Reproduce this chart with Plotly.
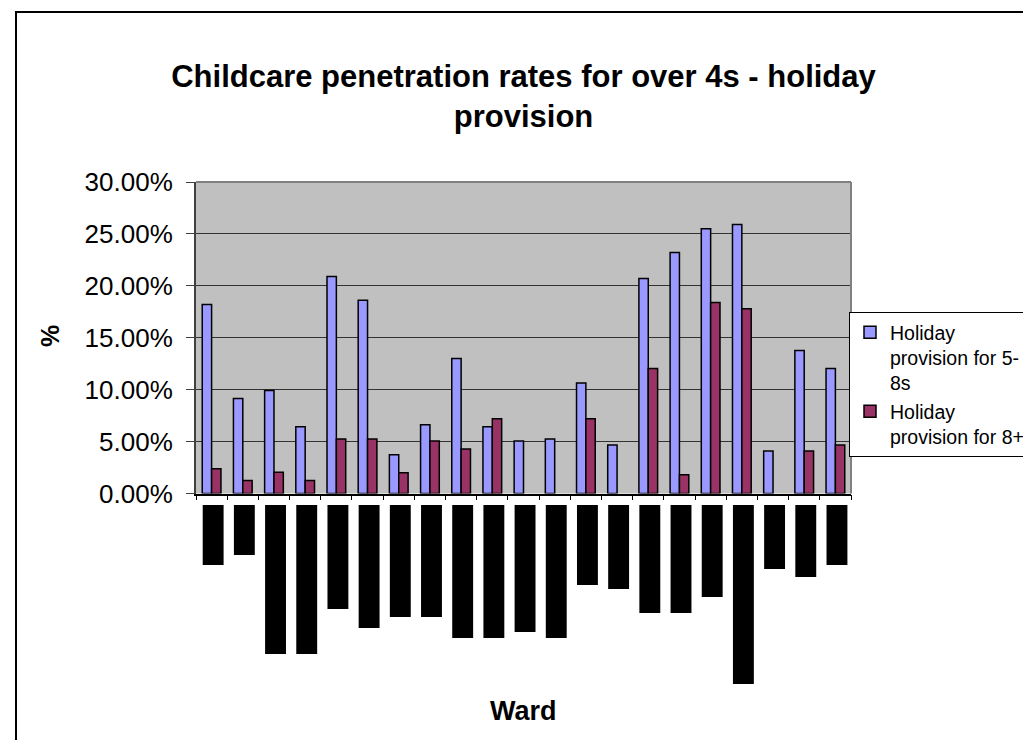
import plotly.graph_objects as go

# ---- data ----
wards = [f"Ward {i}" for i in range(1, 22)]
holiday_5_8 = [0.182, 0.0914, 0.0991, 0.0644, 0.209, 0.186, 0.0374, 0.0663, 0.130, 0.0644,
               0.0506, 0.0525, 0.1065, 0.0468, 0.207, 0.232, 0.255, 0.259, 0.0410, 0.1377, 0.1203]
holiday_8_plus = [0.0239, 0.0124, 0.0204, 0.0124, 0.0525, 0.0525, 0.0200, 0.0506, 0.0429, 0.0721,
                  None, None, 0.0721, None, 0.1203, 0.0181, 0.184, 0.178, None, 0.0410, 0.0468]
# lengths of the (obscured) rotated ward-name labels, in label units
ward_label_lengths = [60, 50, 149, 149, 104, 123, 112, 112, 133, 133, 127,
                      133, 80, 84, 108, 108, 92, 179, 64, 72, 60]
series_names = ["Holiday<br>provision for 5-<br>8s", "Holiday<br>provision for 8+"]
y_ticks = [0, 0.05, 0.10, 0.15, 0.20, 0.25, 0.30]

FONT = "Liberation Sans, Arial, sans-serif"
W, H = 1031, 740
L, R, T, B = 188, 188, 174, 60
PH = H - T - B  # paper height


def py(pix):
    return (H - B - pix) / PH


def px(pix):
    return (pix - L) / (W - L - R)


fig = go.Figure()
fig.add_trace(go.Bar(x=wards, y=holiday_5_8, name=series_names[0],
                     marker=dict(color="#9999FF", line=dict(color="black", width=1.5)),
                     width=0.30, offset=-0.30, xaxis="x", yaxis="y"))
fig.add_trace(go.Bar(x=wards, y=holiday_8_plus, name=series_names[1],
                     marker=dict(color="#993366", line=dict(color="black", width=1.5)),
                     width=0.30, offset=0.0, xaxis="x", yaxis="y"))
fig.add_trace(go.Bar(x=wards, y=ward_label_lengths, showlegend=False, hoverinfo="skip",
                     marker=dict(color="black", line=dict(width=0)),
                     width=0.67, offset=-0.285, xaxis="x2", yaxis="y2"))

fig.update_layout(
    width=W, height=H,
    margin=dict(l=L, r=R, t=T, b=B, autoexpand=False),
    paper_bgcolor="white", plot_bgcolor="white",
    font=dict(family=FONT, color="black"),
    barmode="overlay",
    title=dict(text="<b>Childcare penetration rates for over 4s - holiday<br>provision</b>",
               x=0.5, xref="paper", xanchor="center",
               y=1 - 79 / H, yref="container", yanchor="top",
               font=dict(family=FONT, size=31, color="black")),
    xaxis=dict(domain=[0, 1], anchor="y", type="category", range=[-0.5, 20.5],
               showline=True, linecolor="black", linewidth=1.5,
               ticks="outside", tickson="boundaries", ticklen=5, tickcolor="black",
               showticklabels=False, showgrid=False, zeroline=False),
    yaxis=dict(domain=[py(485.5), 1], anchor="x", range=[0, 0.30],
               tickvals=y_ticks, tickformat=".2%",
               tickfont=dict(family=FONT, size=26, color="black"),
               showline=True, linecolor="#404040", linewidth=2,
               ticks="outside", ticklen=8, tickcolor="#404040", ticklabelstandoff=8,
               showgrid=True, gridcolor="#333333", gridwidth=1, zeroline=False),
    xaxis2=dict(domain=[0, 1], anchor="y2", matches="x", type="category",
                visible=False, showgrid=False),
    yaxis2=dict(domain=[0, py(497)], anchor="x2", range=[(H - B) - 497, 0],
                visible=False, showgrid=False, zeroline=False),
    legend=dict(x=px(841), y=py(304), xanchor="left", yanchor="top",
                bgcolor="white", bordercolor="black", borderwidth=1,
                font=dict(family=FONT, size=19.5, color="black"),
                valign="top", itemwidth=30, tracegroupgap=2),
    showlegend=True,
)

# grey plot-area background and its grey top/right edges
fig.add_shape(type="rect", xref="x domain", yref="y domain", x0=0, x1=1, y0=0, y1=1,
              fillcolor="#C0C0C0", line=dict(width=0), layer="below")
fig.add_shape(type="line", xref="x domain", yref="y domain", x0=0, x1=1, y0=1, y1=1,
              line=dict(color="#808080", width=2), layer="above")
fig.add_shape(type="line", xref="x domain", yref="y domain", x0=1, x1=1, y0=0, y1=1,
              line=dict(color="#808080", width=2), layer="above")
# chart-area border
fig.add_shape(type="rect", xref="paper", yref="paper",
              x0=px(8), x1=px(1029), y0=py(750), y1=py(4),
              line=dict(color="black", width=2), fillcolor="rgba(0,0,0,0)", layer="above")

fig.add_annotation(text="<b>%</b>", xref="paper", yref="paper", x=px(42), y=py(328),
                   textangle=-90, showarrow=False, xanchor="center", yanchor="middle",
                   font=dict(family=FONT, size=25, color="black"))
fig.add_annotation(text="<b>Ward</b>", xref="paper", yref="paper", x=0.5, y=py(703),
                   showarrow=False, xanchor="center", yanchor="middle",
                   font=dict(family=FONT, size=27, color="black"))

fig.write_html("out.html")
